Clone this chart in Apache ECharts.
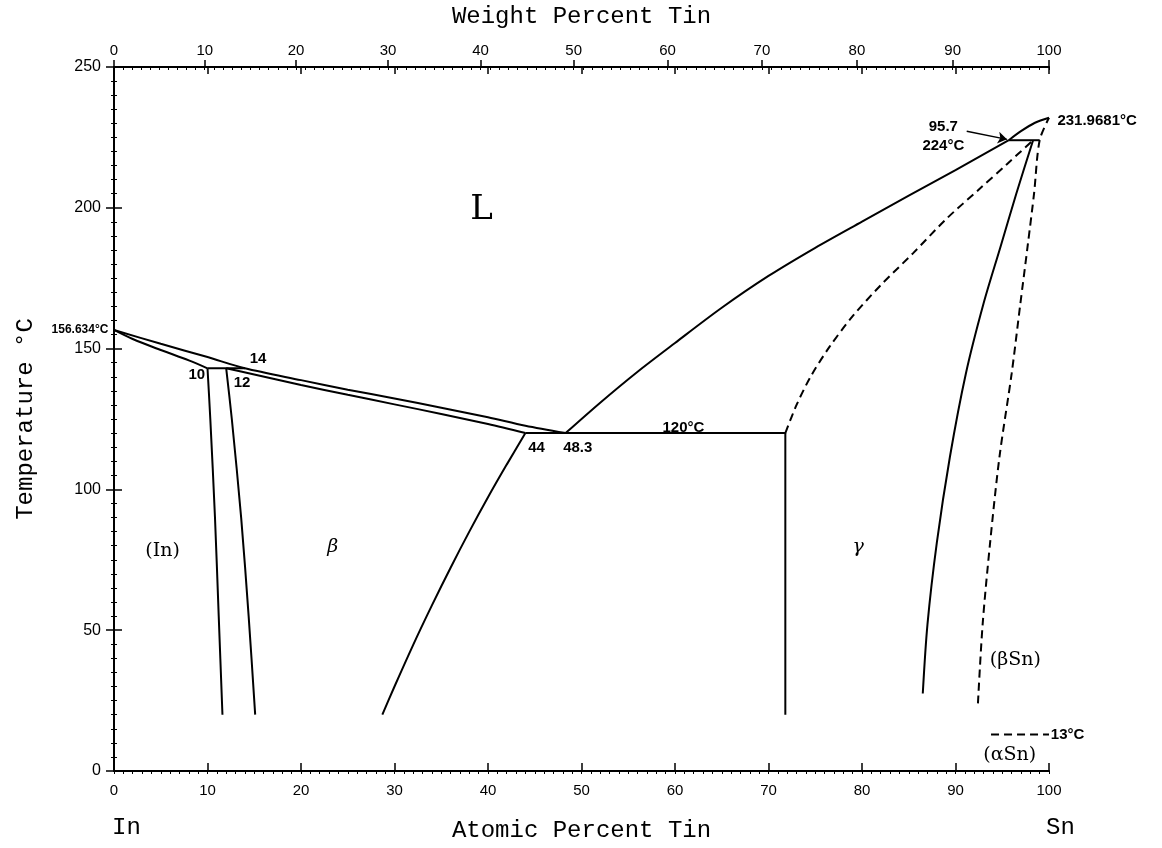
<!DOCTYPE html>
<html>
<head>
<meta charset="utf-8">
<script src="https://cdn.jsdelivr.net/npm/echarts@6/dist/echarts.min.js"></script>
<style>
html,body{margin:0;padding:0;background:#fff;}
#chart{width:1162px;height:848px;}
</style>
</head>
<body>
<div id="chart"></div>
<script>
// ---------- data (atomic % Sn, temperature °C) ----------
const atomicTicks = [0,10,20,30,40,50,60,70,80,90,100];
const weightTicks = [0,10,20,30,40,50,60,70,80,90,100];
const tempTicks = [0,50,100,150,200,250];

const liquidusIn = [[0,156.634],[5,151.7],[10,147],[14,143],[20,138.8],[25,135.4],[30,132.3],[35,129],[40,125.6],[44,122.6],[48.3,120]];
const solidusIn = [[0,156.634],[2,153.4],[5,149.5],[8,145.8],[10,143]];
const peritectic143 = [[10,143],[14,143]];
const betaSolidus = [[12,143],[15,140.8],[20,137.1],[25,133.6],[30,130.2],[35,126.8],[40,123.2],[44,120]];
const inSolvus = [[10,143],[10.3,125],[10.8,90],[11.2,55],[11.6,20]];
const betaLeft = [[12,143],[12.6,125],[13.6,90],[14.4,55],[15.1,20]];
const betaRight = [[44,120],[42,108.8],[40,97.2],[38,85],[36,72.2],[34,58.8],[32,44.8],[30,30],[28.7,20]];
const eutectic120 = [[44,120],[71.8,120]];
const gammaLiquidus = [[48.3,120],[52,130.8],[56,141.8],[60,152],[65,164.5],[70,175.8],[75,185.8],[80,195.1],[85,204.3],[90,213.4],[95.7,224]];
const gammaSolidus = [[71.8,120],[73,130],[74.5,140],[76.5,150.5],[79,161.5],[82,172.5],[85.5,184],[89,196],[92.5,206.5],[95.5,215.5],[98.3,224]];
const gammaRight = [[71.8,120],[71.8,20]];
const gammaTinBoundary = [[86.5,27.5],[87.0,52],[88.0,81],[89.4,111.5],[91.1,141],[93,166],[94.8,186],[96.5,205],[98.3,224]];
const betaSnSolvus = [[92.4,24],[92.9,52],[93.7,81],[94.7,111.5],[96.0,141],[96.9,165],[97.7,186],[98.4,205],[99,224],[100,231.9681]];
const peritectic224 = [[95.7,224],[99,224]];
const snLiquidus = [[95.7,224],[97,227.2],[98.5,230.2],[100,231.9681]];
const alphaSn = [[93.8,13],[100,13]];
const arrow957 = [[91.2,227.2],[95.5,224.3]];

// annotations: [x, T, text, kind]
const annotations = [
  [39.3,199.2,'L','big'],
  [5.2,78,'(In)','phase'],
  [23.4,79.4,'β','greek'],
  [79.6,79.4,'γ','greek'],
  [96.4,39.3,'(βSn)','phase'],
  [95.8,5.6,'(αSn)','phase'],
  [15.4,146.4,'14','num'],
  [8.85,140.7,'10','num'],
  [13.7,137.7,'12','num'],
  [60.9,121.8,'120°C','num'],
  [45.2,114.9,'44','num'],
  [49.6,114.8,'48.3','num'],
  [88.7,228.6,'95.7','num'],
  [88.7,221.9,'224°C','num'],
  [-0.6,156.6,'156.634°C','leftNum'],
  [100.9,231,'231.9681°C','rightNum'],
  [100.2,12.9,'13°C','rightNum']
];

// ---------- helpers ----------
const M_IN = 114.82, M_SN = 118.71;
function wtToAt(w){ const a = w/M_SN, b = (100-w)/M_IN; return 100*a/(a+b); }
function atToWt(x){ const a = x*M_SN, b = (100-x)*M_IN; return 100*a/(a+b); }
const weightMinor = [];
for (let w = 0; w <= 100; w++) weightMinor.push(wtToAt(w));

const BLACK = '#000';
const monoFont = 'Liberation Mono';
const tickFont = {color:BLACK, fontSize:15, fontFamily:'Liberation Sans'};

function curve(data, dashed, smooth){
  return {type:'line', data:data, symbol:'none', smooth: smooth ? 0.3 : false,
    lineStyle:{color:BLACK, width:2, type: dashed ? [8,5] : 'solid', opacity:1},
    xAxisIndex:0, yAxisIndex:0, z:3, silent:true, clip:false};
}

const kindStyle = {
  big:{fontFamily:'DejaVu Serif', fontSize:34, position:'inside'},
  phase:{fontFamily:'DejaVu Serif', fontSize:19, position:'inside'},
  greek:{fontFamily:'DejaVu Serif', fontSize:19, fontStyle:'italic', position:'inside'},
  num:{fontFamily:'Liberation Sans', fontSize:15, fontWeight:'bold', position:'inside'},
  leftNum:{fontFamily:'Liberation Sans', fontSize:12, fontWeight:'bold', position:'left', distance:0},
  rightNum:{fontFamily:'Liberation Sans', fontSize:15, fontWeight:'bold', position:'right', distance:0}
};

const labelData = annotations.map(a => ({
  value:[a[0], a[1]], name:a[2],
  label:Object.assign({show:true, formatter:'{b}', color:BLACK, opacity:1}, kindStyle[a[3]])
}));

const axisLineStyle = {show:true, lineStyle:{color:BLACK, width:2}};
const tickLine = {color:BLACK, width:1.5};

const option = {
  animation:false,
  backgroundColor:'#fff',
  grid:{left:114, right:113, top:67, bottom:69, containLabel:false},
  xAxis:[
    {type:'value', position:'bottom', min:0, max:100, interval:10,
     axisLine:axisLineStyle,
     axisTick:{show:true, inside:true, length:8, lineStyle:tickLine},
     axisLabel:Object.assign({margin:12, customValues:atomicTicks}, tickFont),
     splitLine:{show:false},
     name:'Atomic Percent Tin', nameLocation:'middle', nameGap:48,
     nameTextStyle:{fontFamily:monoFont, fontSize:24, color:BLACK}},
    {type:'value', position:'bottom', min:0, max:100, interval:1,
     axisLine:{show:false}, axisTick:{show:true, inside:false, length:3, lineStyle:{color:BLACK,width:1}},
     axisLabel:{show:false}, splitLine:{show:false}},
    {type:'value', position:'top', min:0, max:100,
     axisLine:axisLineStyle,
     axisTick:{show:true, inside:false, length:7, lineStyle:tickLine, customValues:weightTicks.map(wtToAt)},
     axisLabel:Object.assign({margin:9, customValues:weightTicks.map(wtToAt),
       formatter:v => String(Math.round(atToWt(v)))}, tickFont),
     splitLine:{show:false},
     name:'Weight Percent Tin', nameLocation:'middle', nameGap:38,
     nameTextStyle:{fontFamily:monoFont, fontSize:24, color:BLACK}},
    {type:'value', position:'top', min:0, max:100, interval:10,
     axisLine:{show:false}, axisTick:{show:true, inside:true, length:7, lineStyle:tickLine},
     axisLabel:{show:false}, splitLine:{show:false}},
    {type:'value', position:'top', min:0, max:100,
     axisLine:{show:false}, axisTick:{show:true, inside:true, length:3, lineStyle:{color:BLACK,width:1}, customValues:weightMinor},
     axisLabel:{show:false}, splitLine:{show:false}}
  ],
  yAxis:[
    {type:'value', position:'left', min:0, max:250, interval:50,
     axisLine:axisLineStyle,
     axisTick:{show:true, inside:false, length:8, lineStyle:tickLine},
     minorTick:{show:true, splitNumber:10, length:3, lineStyle:{color:BLACK,width:1}},
     axisLabel:{margin:13, fontSize:16, customValues:tempTicks, color:BLACK, fontFamily:'Liberation Sans'},
     splitLine:{show:false}, minorSplitLine:{show:false},
     name:'Temperature °C', nameLocation:'middle', nameGap:76, nameRotate:90,
     nameTextStyle:{fontFamily:monoFont, fontSize:24, color:BLACK}},
    {type:'value', position:'right', min:0, max:250, interval:50,
     axisLine:axisLineStyle,
     axisTick:{show:true, inside:false, length:8, lineStyle:tickLine},
     minorTick:{show:true, splitNumber:10, length:3, lineStyle:{color:BLACK,width:1}},
     axisLabel:{show:false}, splitLine:{show:false}, minorSplitLine:{show:false}}
  ],
  graphic:[
    {type:'text', left:112, top:816, style:{text:'In', font:'24px "Liberation Mono"', fill:BLACK}},
    {type:'text', left:1046, top:816, style:{text:'Sn', font:'24px "Liberation Mono"', fill:BLACK}}
  ],
  series:[
    curve(liquidusIn, false, true),
    curve(solidusIn, false, true),
    curve(peritectic143, false, false),
    curve(betaSolidus, false, true),
    curve(inSolvus, false, true),
    curve(betaLeft, false, true),
    curve(betaRight, false, true),
    curve(eutectic120, false, false),
    curve(gammaLiquidus, false, true),
    curve(gammaSolidus, true, true),
    curve(gammaRight, false, false),
    curve(gammaTinBoundary, false, true),
    curve(betaSnSolvus, true, true),
    curve(peritectic224, false, false),
    curve(snLiquidus, false, true),
    curve(alphaSn, true, false),
    {type:'lines', coordinateSystem:'cartesian2d', xAxisIndex:0, yAxisIndex:0,
     data:[{coords:arrow957}], symbol:['none','arrow'], symbolSize:9,
     lineStyle:{color:BLACK, width:1.5, opacity:1}, z:4, silent:true},
    {type:'scatter', xAxisIndex:0, yAxisIndex:0, symbolSize:0, data:labelData, clip:false, z:5, silent:true,
     itemStyle:{opacity:1}}
  ]
};

const chart = echarts.init(document.getElementById('chart'), null, {renderer:'canvas'});
chart.setOption(option);
</script>
</body>
</html>
